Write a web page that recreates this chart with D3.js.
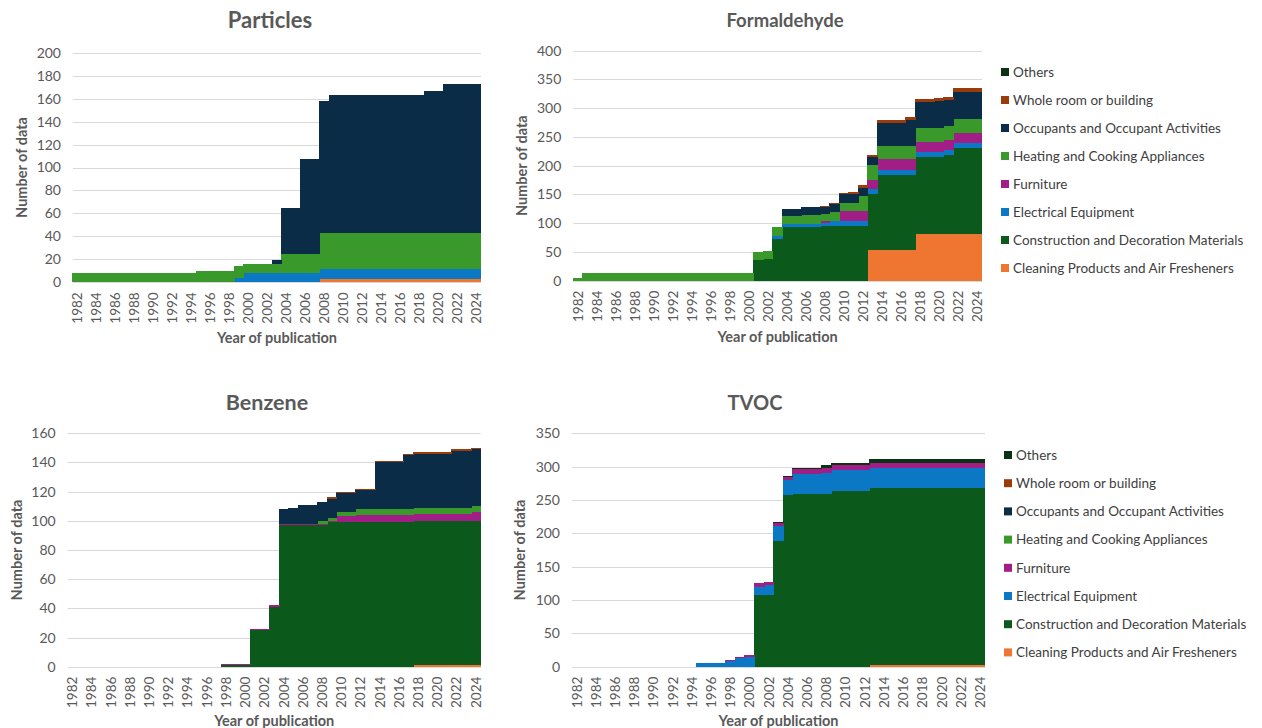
<!DOCTYPE html>
<html><head><meta charset="utf-8">
<script src="https://cdn.jsdelivr.net/npm/d3@7/dist/d3.min.js"></script>
<style>
html,body{margin:0;padding:0;background:#fff;}
svg{display:block;font-family:Lato,"Noto Sans",sans-serif;}
</style></head>
<body><svg id="c" width="1262" height="728"></svg>
<script>
// ---------- DATA ----------
const years = d3.range(1982, 2025); // 1982..2024 categories
const yearTickLabels = years.filter(y => y % 2 === 0).map(String);

const seriesNames = [
  "Cleaning Products and Air Fresheners",
  "Construction and Decoration Materials",
  "Electrical Equipment",
  "Furniture",
  "Heating and Cooking Appliances",
  "Occupants and Occupant Activities",
  "Whole room or building",
  "Others"
];
const seriesColors = ["#ef7630","#0b5a1c","#0a78c4","#a01e86","#3a992b","#0b2c47","#9a3b0c","#0c3216"];

// Particles (1982..2024)
const particlesCleaning = [0,0,0,0,0,0,0,0,0,0, 0,0,0,0,0,0,0,0,0,0, 0,0,0,0,0,0,3,3,3,3, 3,3,3,3,3,3,3,3,3,3, 3,3,3];
const particlesElectrical = [0,0,0,0,0,0,0,0,0,0, 0,0,0,0,0,0,0,4,8,8, 8,8,8,8,8,8,9,9,9,9, 9,9,9,9,9,9,9,9,9,9, 9,9,9];
const particlesHeating = [8,8,8,8,8,8,8,8,8,8, 8,8,8,10,10,10,10,10,8,8, 8,8,17,17,17,17,31,31,31,31, 31,31,31,31,31,31,31,31,31,31, 31,31,31];
const particlesOccupants = [0,0,0,0,0,0,0,0,0,0, 0,0,0,0,0,0,0,0,0,0, 0,3,40,40,82,82,115,120,120,120, 120,120,120,120,120,120,120,124,124,130, 130,130,130];

// Formaldehyde
const formCleaning = [0,0,0,0,0,0,0,0,0,0, 0,0,0,0,0,0,0,0,0,0, 0,0,0,0,0,0,0,0,0,0, 0,53,53,53,53,53,82,82,82,82, 82,82,82];
const formConstruction = [0,0,0,0,0,0,0,0,0,0, 0,0,0,0,0,0,0,0,0,36, 38,72,93,93,93,93,95,95,96,96, 96,97,131,131,131,131,133,133,133,137, 149,149,149];
const formElectrical = [0,0,0,0,0,0,0,0,0,0, 0,0,0,0,0,0,0,0,0,0, 0,5,5,5,5,5,6,8,8,8, 8,9,9,9,9,9,9,9,9,9, 8,8,8];
const formFurniture = [0,0,0,0,0,0,0,0,0,0, 0,0,0,0,0,0,0,0,0,0, 0,0,1,1,1,1,2,1,17,18, 18,16,18,18,18,18,18,18,18,17, 18,18,18];
const formHeating = [5,13,13,13,13,13,13,13,13,13, 13,13,13,13,13,13,14,14,14,14, 14,16,14,14,15,15,13,16,15,14, 25,26,23,23,23,23,23,23,23,24, 24,24,24];
const formOccupants = [0,0,0,0,0,0,0,0,0,0, 0,0,0,0,0,0,0,0,0,0, 0,0,11,12,14,14,13,14,14,14, 14,14,41,41,41,45,46,46,48,46, 48,48,48];
const formWholeRoom = [0,0,0,0,0,0,0,0,0,0, 0,0,0,0,0,0,0,0,0,0, 0,0,0,0,0,0,1,1,2,5, 5,4,5,5,5,5,5,5,5,5, 7,7,7];

// Benzene
const benzCleaning = [0,0,0,0,0,0,0,0,0,0, 0,0,0,0,0,0,0,0,0,0, 0,0,0,0,0,0,0,0,0,0, 0,0,0,0,0,0,1,1,1,1, 1,1,1];
const benzConstruction = [0,0,0,0,0,0,0,0,0,0, 0,0,0,0,0,0,1,1,1,25, 25,41,97,97,97,97,97,99,99,99, 99,99,99,99,99,99,99,99,99,99, 99,99,99];
const benzFurniture = [0,0,0,0,0,0,0,0,0,0, 0,0,0,0,0,0,1,1,1,1, 1,1,1,1,1,1,1,1,4,4, 5,5,5,5,5,5,5,5,5,5, 5,5,6];
const benzHeating = [0,0,0,0,0,0,0,0,0,0, 0,0,0,0,0,0,0,0,0,0, 0,0,0,0,0,0,2,2,3,3, 4,4,4,4,4,4,4,4,4,4, 4,4,4];
const benzOccupants = [0,0,0,0,0,0,0,0,0,0, 0,0,0,0,0,0,0,0,0,0, 0,0,10,11,13,13,13,13,13,13, 13,13,32,32,32,37,37,37,37,37, 39,39,39];
const benzWholeRoom = [0,0,0,0,0,0,0,0,0,0, 0,0,0,0,0,0,0,0,0,0, 0,0,0,0,0,0,0,1,1,1, 1,1,1,1,1,1,1,1,1,1, 1,1,1];

// TVOC
const tvocCleaning = [0,0,0,0,0,0,0,0,0,0, 0,0,0,0,0,0,0,0,0,0, 0,0,0,0,0,0,0,0,0,0, 0,3,3,3,3,3,3,3,3,3, 3,3,3];
const tvocConstruction = [0,0,0,0,0,0,0,0,0,0, 0,0,0,0,0,0,0,0,0,107, 107,189,258,259,259,259,259,263,263,263, 263,265,265,265,265,265,265,265,265,265, 265,265,265];
const tvocElectrical = [0,0,0,0,0,0,0,0,0,0, 0,0,0,6,6,6,8,13,15,13, 15,22,22,30,30,30,32,32,32,32, 32,30,30,30,30,30,30,30,30,30, 30,30,30];
const tvocFurniture = [0,0,0,0,0,0,0,0,0,0, 0,0,0,0,0,0,2,2,2,5, 5,5,5,8,8,8,7,8,8,8, 8,8,8,8,8,8,8,8,8,8, 8,8,8];
const tvocOthers = [0,0,0,0,0,0,0,0,0,0, 0,0,0,0,0,0,0,0,0,0, 0,1,1,1,1,1,5,3,3,3, 3,5,5,5,5,5,5,5,5,5, 5,5,5];

const yTicksParticles = [0,20,40,60,80,100,120,140,160,180,200];
const yTicksForm = [0,50,100,150,200,250,300,350,400];
const yTicksBenz = [0,20,40,60,80,100,120,140,160];
const yTicksTvoc = [0,50,100,150,200,250,300,350];

// ---------- LAYOUT ----------
const panels = [
  {title:"Particles", tsize:22, ticks:yTicksParticles, x0:73, x1:481, y0:52.7, y1:282.3, tx:270, ty:28, ytx:22, xty:343,
   data:{0:particlesCleaning,2:particlesElectrical,4:particlesHeating,5:particlesOccupants}},
  {title:"Formaldehyde", tsize:18.5, ticks:yTicksForm, x0:573.3, x1:982, y0:50.7, y1:280.7, tx:785, ty:27, ytx:522, xty:342,
   data:{0:formCleaning,1:formConstruction,2:formElectrical,3:formFurniture,4:formHeating,5:formOccupants,6:formWholeRoom},
   legend:{x:1001, y:72, dy:28}},
  {title:"Benzene", tsize:21.5, ticks:yTicksBenz, x0:67.7, x1:480.7, y0:433.3, y1:666.7, tx:267, ty:410, ytx:17, xty:726,
   data:{0:benzCleaning,1:benzConstruction,3:benzFurniture,4:benzHeating,5:benzOccupants,6:benzWholeRoom}},
  {title:"TVOC", tsize:20, ticks:yTicksTvoc, x0:572, x1:985, y0:433.3, y1:666.7, tx:755, ty:410, ytx:520, xty:726,
   data:{0:tvocCleaning,1:tvocConstruction,2:tvocElectrical,3:tvocFurniture,7:tvocOthers},
   legend:{x:1004, y:455, dy:28.2}}
];

const svg = d3.select("#c");
svg.append("rect").attr("width",1262).attr("height",728).attr("fill","#fff");
const textCol = "#595959";
const keys = seriesNames.map((_,i)=>i);

panels.forEach(p => {
  const g = svg.append("g");
  const x = d3.scaleBand().domain(years).range([p.x0, p.x1]).padding(0);
  const ymax = p.ticks[p.ticks.length-1];
  const y = d3.scaleLinear().domain([0, ymax]).range([p.y1, p.y0]);

  // gridlines
  g.append("g").selectAll("line").data(p.ticks).join("line")
    .attr("x1", p.x0).attr("x2", p.x1)
    .attr("y1", d=>Math.round(y(d))+0.5).attr("y2", d=>Math.round(y(d))+0.5)
    .attr("stroke", "#d9d9d9").attr("stroke-width", 1);

  // stacked data
  const rows = years.map((yr,i) => {
    const r = {year: yr};
    keys.forEach(k => { r[k] = p.data[k] ? p.data[k][i] : 0; });
    return r;
  });
  const stack = d3.stack().keys(keys)(rows);
  stack.forEach(layer => {
    g.append("g").attr("fill", seriesColors[layer.key]).attr("shape-rendering","crispEdges")
      .selectAll("rect").data(layer.filter(d => d[1]-d[0] > 0)).join("rect")
      .attr("x", d => Math.floor(x(d.data.year)))
      .attr("width", d => Math.ceil(x(d.data.year) + x.bandwidth()) - Math.floor(x(d.data.year)))
      .attr("y", d => y(d[1]))
      .attr("height", d => y(d[0]) - y(d[1]));
  });

  // y axis labels
  const ya = d3.axisLeft(y).tickValues(p.ticks).tickSize(0).tickPadding(12);
  const yg = g.append("g").attr("transform", `translate(${p.x0},0)`).call(ya);
  yg.select(".domain").remove();
  yg.selectAll("text").attr("fill", textCol).style("font-size","14px").style("font-family","Lato,'Noto Sans',sans-serif");

  // x axis labels
  const xa = d3.axisBottom(x).tickValues(years.filter(yr => yearTickLabels.includes(String(yr)))).tickSize(0).tickPadding(0);
  const xg = g.append("g").attr("transform", `translate(0,${p.y1})`).call(xa);
  xg.select(".domain").remove();
  xg.selectAll("text").attr("fill", textCol).style("font-size","13.5px").style("font-family","Lato,'Noto Sans',sans-serif")
    .attr("text-anchor","end").attr("transform","rotate(-90)").attr("x",-10).attr("y",0).attr("dy","0.35em");

  // titles
  g.append("text").attr("x", p.tx).attr("y", p.ty).attr("text-anchor","middle")
    .attr("fill", textCol).style("font-size", p.tsize + "px").style("font-weight","bold").text(p.title);
  g.append("text").attr("x", (p.x0+p.x1)/2).attr("y", p.xty).attr("text-anchor","middle")
    .attr("fill", textCol).style("font-size","14.5px").style("font-weight","bold").text("Year of publication");
  g.append("text").attr("transform", `translate(${p.ytx},${(p.y0+p.y1)/2}) rotate(-90)`).attr("text-anchor","middle")
    .attr("dy","0.35em").attr("fill", textCol).style("font-size","14.5px").style("font-weight","bold").text("Number of data");

  // legend
  if (p.legend) {
    const order = keys.slice().reverse();
    const lg = g.append("g");
    order.forEach((k, i) => {
      const yy = p.legend.y + i * p.legend.dy;
      lg.append("rect").attr("x", p.legend.x).attr("y", yy-4).attr("width",8).attr("height",8).attr("fill", seriesColors[k]);
      lg.append("text").attr("x", p.legend.x+12).attr("y", yy).attr("dy","0.35em")
        .attr("fill", "#404040").style("font-size","13.5px").text(seriesNames[k]);
    });
  }
});
</script></body></html>
